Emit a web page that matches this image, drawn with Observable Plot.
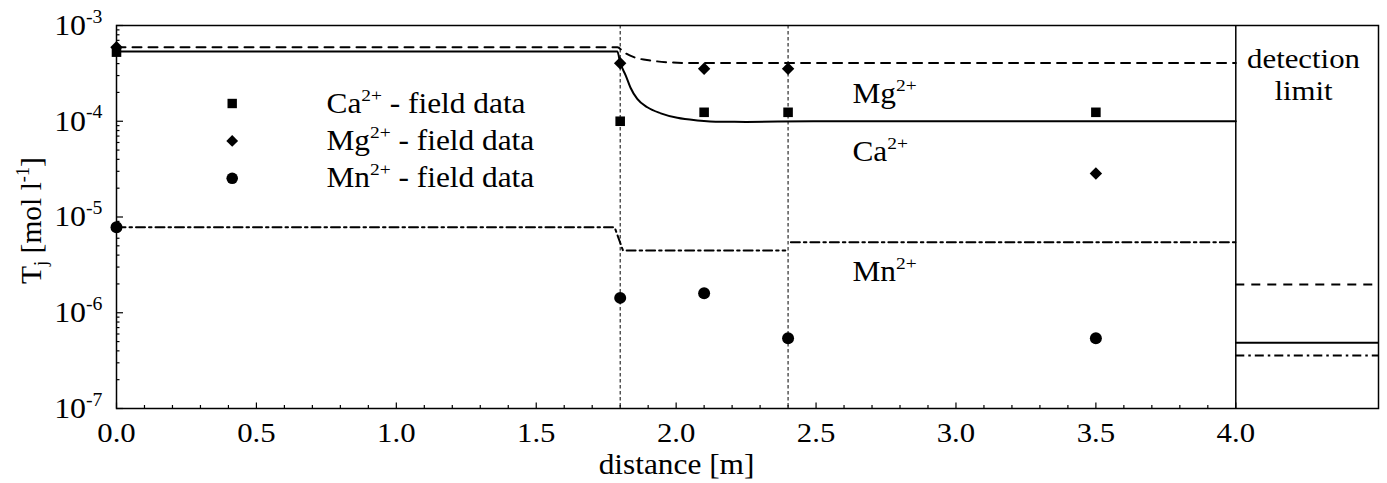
<!DOCTYPE html>
<html><head><meta charset="utf-8">
<script src="https://cdn.jsdelivr.net/npm/d3@7"></script>
<script src="https://cdn.jsdelivr.net/npm/@observablehq/plot@0.6"></script>
<style>
html,body{margin:0;padding:0;background:#fff;}
#chart svg, #chart svg text, #chart svg tspan, #chart svg g {font-family:"Liberation Serif","Times New Roman",serif !important;}
</style></head><body><div id="chart"></div>
<script>
// ---------- data ----------
const xTicks = [0, 0.5, 1.0, 1.5, 2.0, 2.5, 3.0, 3.5, 4.0];
const yTicks = [1e-7, 1e-6, 1e-5, 1e-4, 1e-3];
const xSplit = 4.0;          // end of the distance axis / start of detection-limit panel
const xMax = 4.51;           // right edge of the detection-limit panel
const sampleX = [1.8, 2.4];  // dashed vertical lines

// simulated profiles
const caX = [0, 1.79, 1.80, 1.82, 1.837, 1.861, 1.897, 1.945, 2.004, 2.076, 2.16, 2.25, 2.49, 3.0, 4.0];
const caY = [5.35e-4, 5.35e-4, 4.1e-4, 3.0e-4, 2.24e-4, 1.71e-4, 1.40e-4, 1.21e-4, 1.086e-4, 1.02e-4, 9.87e-5, 9.85e-5, 1.0e-4, 1.0e-4, 1.0e-4];
const mgX = [0, 1.79, 1.813, 1.849, 1.909, 1.98, 2.076, 4.0];
const mgY = [5.93e-4, 5.93e-4, 5.26e-4, 4.67e-4, 4.31e-4, 4.11e-4, 4.05e-4, 4.05e-4];
const mnX = [0, 1.78, 1.81, 2.39, 2.4, 2.41, 4.0];
const mnY = [7.83e-6, 7.83e-6, 4.47e-6, 4.47e-6, null, 5.46e-6, 5.46e-6];

// field data
const fieldX = [0, 1.8, 2.1, 2.4, 3.5];
const caField = [5.27e-4, 1.0e-4, 1.24e-4, 1.24e-4, 1.24e-4];
const mgField = [5.93e-4, 4.04e-4, 3.53e-4, 3.53e-4, 2.85e-5];
const mnField = [7.83e-6, 1.43e-6, 1.6e-6, 5.42e-7, 5.42e-7];

// detection limits
const caLimit = 4.85e-7;
const mgLimit = 1.97e-6;
const mnLimit = 3.58e-7;

// curve labels (data coordinates)
const labelNames = ["Mg^{2+}", "Ca^{2+}", "Mn^{2+}"];
const labelX = [2.63, 2.63, 2.63];
const labelY = [1.93e-4, 4.83e-5, 2.65e-6];

// legend
const legendNames = ["Ca^{2+} - field data", "Mg^{2+} - field data", "Mn^{2+} - field data"];
const legendSymbols = ["square", "diamond2", "circle"];

// ---------- build ----------
const W = 1387, H = 483, mL = 116, mR = 9, mT = 25, mB = 75;
const frameW = W - mL - mR, frameH = H - mT - mB;
const xMinor = d3.range(1, 40).map(i => i / 10).filter(v => Math.abs(v * 2 - Math.round(v * 2)) > 1e-6);
const yMinor = [];
for (let e = -7; e < -3; e++) for (let m = 2; m <= 9; m++) yMinor.push(m * Math.pow(10, e));

const rows = (xs, ys) => xs.map((x, i) => ({x, y: ys[i]}));
const ink = "black";
const serif = "'Liberation Serif', 'Times New Roman', serif";
const fs = 28.5;

const legendMarks = legendNames.flatMap((name, i) => [
  Plot.dot([name], {frameAnchor: "top-left", dx: 115.7, dy: 78 + i * 37.4, symbol: legendSymbols[i], r: legendSymbols[i] === "circle" ? 5.8 : 5.3, fill: ink}),
  Plot.text([name], {frameAnchor: "top-left", dx: 210, dy: 78 + i * 37.4, textAnchor: "start", lineAnchor: "middle", fontSize: fs, fontFamily: serif, fill: ink})
]);

const chart = Plot.plot({
  width: W, height: H,
  marginLeft: mL, marginRight: mR, marginTop: mT, marginBottom: mB,
  x: {domain: [0, xMax], axis: null},
  y: {type: "log", domain: [1e-7, 1e-3], axis: null},
  style: {background: "white", color: ink, overflow: "visible", fontFamily: serif},
  marks: [
    // ticks (inward)
    Plot.tickX(xMinor, {x: d => d, insetTop: frameH - 3, stroke: ink, strokeWidth: 1.2}),
    Plot.tickX(xTicks, {x: d => d, insetTop: frameH - 5.5, stroke: ink, strokeWidth: 1.2}),
    Plot.tickY(yMinor, {y: d => d, insetRight: frameW - 3.5, stroke: ink, strokeWidth: 1.2}),
    Plot.tickY(yTicks, {y: d => d, insetRight: frameW - 7, stroke: ink, strokeWidth: 1.2}),
    // axis labels
    Plot.axisX(xTicks, {anchor: "bottom", tickSize: 0, tickPadding: 13.5, tickFormat: d3.format(".1f"), fontSize: 28, fontFamily: serif, label: null}),
    Plot.axisY(yTicks, {anchor: "left", tickSize: 0, tickPadding: 14, tickFormat: d => "10^{" + Math.round(Math.log10(d)) + "}", fontSize: 29, fontFamily: serif, label: null}),
    Plot.text(["distance [m]"], {frameAnchor: "bottom-left", dx: 560, dy: 56.4, fontSize: fs, fontFamily: serif, textAnchor: "middle", lineAnchor: "middle", fill: ink}),
    Plot.text(["T_{j} [mol l^{-1}]"], {frameAnchor: "left", dx: -85, dy: 3.5, rotate: -90, fontSize: 29.5, fontFamily: serif, textAnchor: "middle", lineAnchor: "middle", fill: ink}),
    // sample positions
    Plot.ruleX(sampleX, {stroke: ink, strokeWidth: 1, strokeDasharray: "3.5,2.5"}),
    // panel separator
    Plot.ruleX([xSplit], {stroke: ink, strokeWidth: 1.5}),
    // simulated profiles
    Plot.line(rows(mgX, mgY), {x: "x", y: "y", stroke: ink, strokeWidth: 2, strokeDasharray: "9,7", curve: "monotone-x"}),
    Plot.line(rows(caX, caY), {x: "x", y: "y", stroke: ink, strokeWidth: 2, curve: "monotone-x"}),
    Plot.line(rows(mnX, mnY), {x: "x", y: "y", stroke: ink, strokeWidth: 2, strokeDasharray: "9,4,2.5,4"}),
    // detection limits
    Plot.ruleY([mgLimit], {x1: xSplit, x2: xMax, stroke: ink, strokeWidth: 2, strokeDasharray: "9,7"}),
    Plot.ruleY([caLimit], {x1: xSplit, x2: xMax, stroke: ink, strokeWidth: 2}),
    Plot.ruleY([mnLimit], {x1: xSplit, x2: xMax, stroke: ink, strokeWidth: 2, strokeDasharray: "9,4,2.5,4"}),
    Plot.text(["detection\nlimit"], {frameAnchor: "top-right", dx: -75, dy: 20.5, textAnchor: "middle", lineAnchor: "top", lineHeight: 1.12, fontSize: 28, fontFamily: serif, fill: ink}),
    // field data
    Plot.dot(rows(fieldX, caField), {x: "x", y: "y", symbol: "square", r: 5.4, fill: ink}),
    Plot.dot(rows(fieldX, mgField), {x: "x", y: "y", symbol: "diamond2", r: 5.6, fill: ink}),
    Plot.dot(rows(fieldX, mnField), {x: "x", y: "y", symbol: "circle", r: 6, fill: ink}),
    // curve labels
    Plot.text(labelNames.map((t, i) => ({t, x: labelX[i], y: labelY[i]})), {x: "x", y: "y", text: "t", textAnchor: "start", lineAnchor: "middle", fontSize: fs, fontFamily: serif, fill: ink}),
    // legend
    ...legendMarks,
    // frame
    Plot.frame({stroke: ink, strokeWidth: 1.5})
  ]
});

// super/subscript markup: ^{...} and _{...}
function richify(svg) {
  svg.querySelectorAll("text").forEach(el => {
    if (el.querySelector("tspan")) return;
    const s = el.textContent;
    if (!/[\^_]\{/.test(s)) return;
    const parts = s.split(/([\^_]\{[^}]*\})/).filter(p => p !== "");
    el.textContent = "";
    let shift = 0;
    for (const p of parts) {
      const t = document.createElementNS("http://www.w3.org/2000/svg", "tspan");
      let target = 0, small = false, content = p;
      if (p.startsWith("^{")) { target = -0.42; small = true; content = p.slice(2, -1); }
      else if (p.startsWith("_{")) { target = 0.22; small = true; content = p.slice(2, -1); }
      const delta = target - shift;
      if (small) {
        t.setAttribute("font-size", "62%");
        if (delta) t.setAttribute("dy", (delta / 0.62).toFixed(3) + "em");
      } else if (delta) t.setAttribute("dy", delta.toFixed(3) + "em");
      shift = target;
      t.textContent = content;
      el.appendChild(t);
    }
  });
}
// the reference type is set slightly wide: stretch horizontal text
function widen(svg, k) {
  svg.querySelectorAll("text").forEach(el => {
    const tr = el.getAttribute("transform") || "";
    if (/rotate/.test(tr)) return;
    if (tr) el.setAttribute("transform", tr + ` scale(${k},1)`);
    else {
      const x = +el.getAttribute("x") || 0;
      el.setAttribute("transform", `translate(${x},0) scale(${k},1) translate(${-x},0)`);
    }
  });
}
richify(chart);
widen(chart, 1.1);
document.getElementById("chart").appendChild(chart);
</script>
</body></html>
